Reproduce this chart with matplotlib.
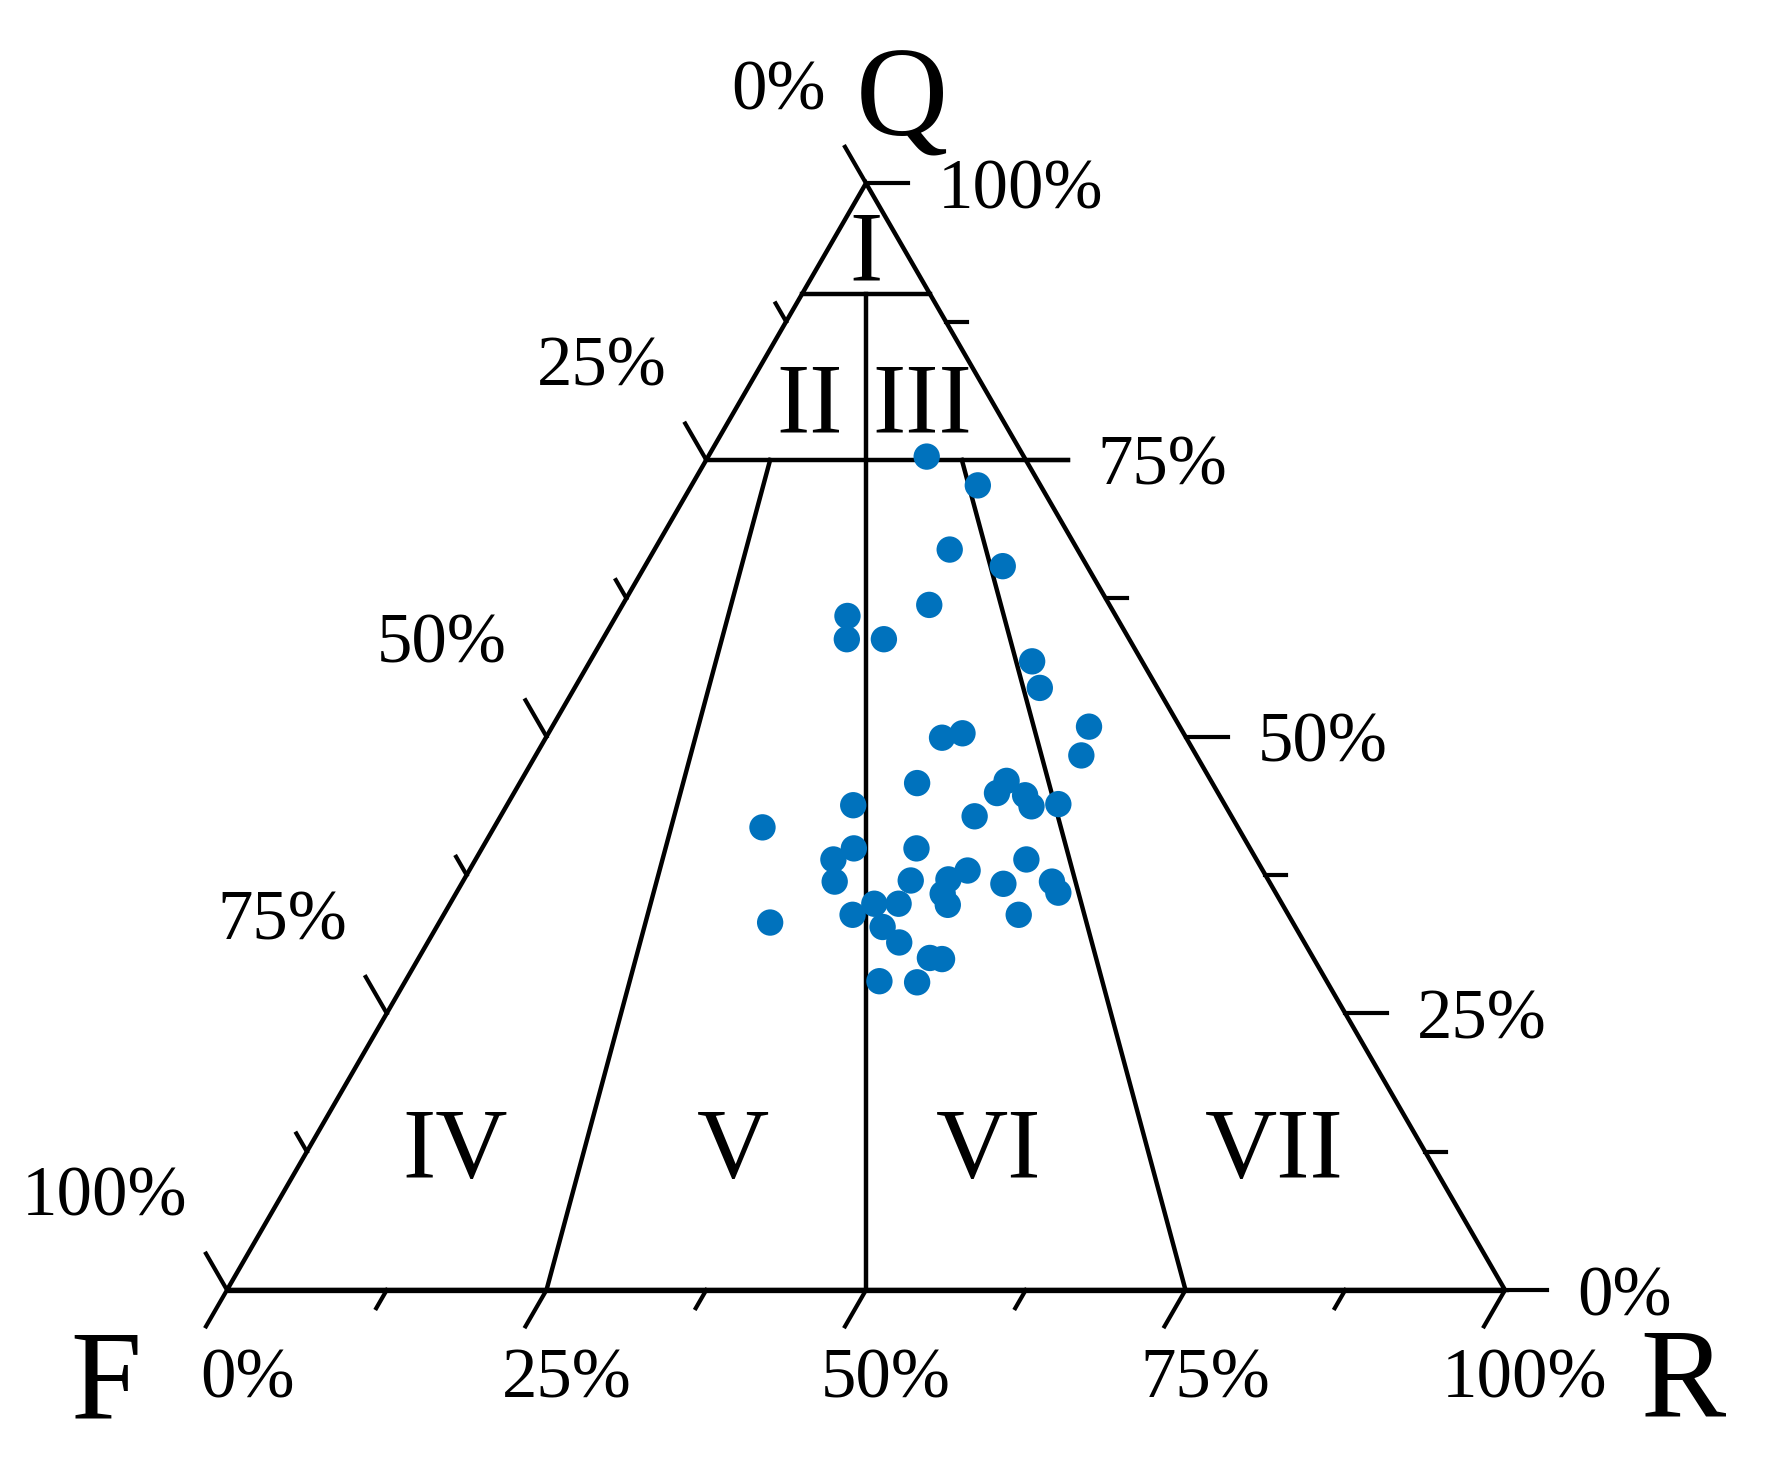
import numpy as np
import matplotlib
matplotlib.use('Agg')
import matplotlib.pyplot as plt

# Composición de las muestras (%): Q = cuarzo, R = fragmentos de roca, F = 100 - Q - R
Q_pct = [75.3, 72.7, 66.9, 65.4, 61.9, 60.9, 58.8, 58.8, 56.8, 54.4,
         50.9, 48.3, 49.9, 50.3, 45.8, 43.8, 41.8, 46.0, 44.9, 44.7,
         43.7, 43.9, 42.8, 39.9, 39.9, 38.9, 36.9, 38.9, 37.0, 37.9,
         37.1, 35.8, 34.8, 36.7, 36.9, 35.9, 33.9, 33.2, 33.9, 34.9,
         34.9, 32.8, 31.4, 30.0, 29.9, 27.9, 27.8]
R_pct = [17.1, 22.4, 23.1, 28.0, 24.0, 18.1, 19.1, 22.0, 34.6, 36.4,
         42.0, 42.7, 31.0, 32.4, 31.1, 27.1, 21.0, 38.0, 37.8, 40.1,
         41.1, 43.1, 37.1, 34.0, 29.1, 28.0, 29.1, 43.1, 35.0, 39.0,
         37.9, 38.1, 39.0, 42.4, 46.1, 47.1, 45.0, 25.9, 32.0, 33.2,
         35.1, 34.9, 36.9, 40.0, 41.0, 37.1, 40.1]

tick_fracs = np.arange(9) / 8           # ticks cada 12.5 %
pct_labels = ['0%', '25%', '50%', '75%', '100%']
regions = ['I', 'II', 'III', 'IV', 'V', 'VI', 'VII']

S3 = np.sqrt(3)


def tern(q, r):
    """Convierte fracciones (Q, R) a coordenadas cartesianas (F en el origen)."""
    q = np.asarray(q, dtype=float)
    r = np.asarray(r, dtype=float)
    return r + q / 2, q * S3 / 2


# Figura: 1 unidad = 1278 px, F en (227, 1290) px
W, H = 1768, 1462
SC, X0, Y0 = 1278.0, 227.0, 1290.0
fig = plt.figure(figsize=(W / 100, H / 100), dpi=100)
ax = fig.add_axes([0, 0, 1, 1])
ax.set_xlim(-X0 / SC, (W - X0) / SC)
ax.set_ylim((Y0 - H) / SC, Y0 / SC)
ax.axis('off')


def px(d):
    return d / SC


def at(xp, yp):
    return (xp - X0) / SC, (Y0 - yp) / SC


serif = ['Liberation Serif', 'DejaVu Serif']
lw = 3.2
k = 'black'

# Bordes del triángulo
fx, fy = tern([0, 0, 1, 0], [0, 1, 0, 0])
ax.plot(fx, fy, color=k, lw=lw, solid_capstyle='butt', solid_joinstyle='miter')
bx, by = tern([0, 0], [0, 1])
ax.plot(bx, by, color=k, lw=3.8, solid_capstyle='butt')

# Divisiones de clasificación
x1, y1 = tern([0.9, 0.9], [0.0, 0.1])
ax.plot(x1, y1, color=k, lw=lw)
x2, y2 = tern([0.75, 0.75], [0.0, 0.25])
ax.plot([x2[0], x2[1] + px(42)], y2, color=k, lw=lw)
x3, y3 = tern([0.9, 0.0], [0.05, 0.5])
ax.plot(x3, y3, color=k, lw=lw)
x4, y4 = tern([0.75, 0.0], [0.05, 0.25])
ax.plot(x4, y4, color=k, lw=lw)
x5, y5 = tern([0.75, 0.0], [0.20, 0.75])
ax.plot(x5, y5, color=k, lw=lw)

# Marcas de los ejes
long_t, short_t = px(42), px(21)
for i, t in enumerate(tick_fracs):
    L = long_t if i % 2 == 0 else short_t
    # eje inferior (R)
    x, y = tern(0, t)
    ax.plot([x, x - 0.5 * L], [y, y - S3 / 2 * L], color=k, lw=3.0)
    # eje izquierdo (F)
    x, y = tern(1 - t, 0)
    ax.plot([x, x - 0.5 * L], [y, y + S3 / 2 * L], color=k, lw=3.0)
    # eje derecho (Q)
    x, y = tern(t, 1 - t)
    ax.plot([x, x + L], [y, y], color=k, lw=3.0)

# Etiquetas de porcentaje
fs_pct = 51
for j, lab in enumerate(pct_labels):
    t = j / 4
    x, y = tern(0, t)
    ax.text(x + px(20), y - px(107), lab, ha='center', va='baseline',
            fontsize=fs_pct, family=serif)
    x, y = tern(1 - t, 0)
    ax.text(x - px(40), y + px(74), lab, ha='right', va='baseline',
            fontsize=fs_pct, family=serif)
    x, y = tern(t, 1 - t)
    ax.text(x + px(72), y - px(25), lab, ha='left', va='baseline',
            fontsize=fs_pct, family=serif)

# Vértices
fs_v = 92
ax.text(*at(902, 135), 'Q', ha='center', va='baseline', fontsize=fs_v, family=serif)
ax.text(*at(106, 1418), 'F', ha='center', va='baseline', fontsize=fs_v, family=serif)
ax.text(*at(1683, 1416), 'R', ha='center', va='baseline', fontsize=fs_v, family=serif)

# Campos
reg_pos = [(866, 280), (810, 432), (922, 432), (455, 1177),
           (733, 1177), (989, 1177), (1274, 1177)]
for lab, (xp, yp) in zip(regions, reg_pos):
    ax.text(*at(xp, yp), lab, ha='center', va='baseline', fontsize=72, family=serif)

# Muestras
px_, py_ = tern(np.array(Q_pct) / 100, np.array(R_pct) / 100)
ax.scatter(px_, py_, s=360, color='#0072BD', edgecolors='none', zorder=5)

fig.savefig('out.png', dpi=100)
